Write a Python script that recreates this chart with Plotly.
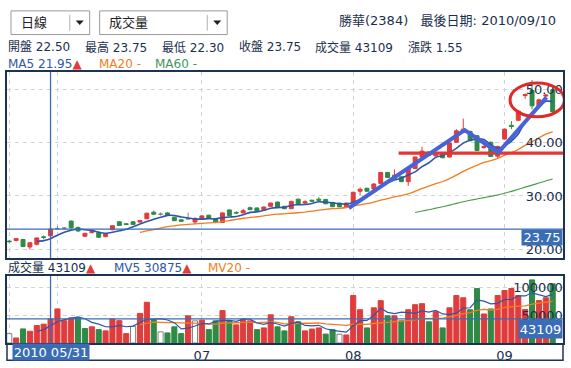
import plotly.graph_objects as go
import pandas as pd

# ---------------- data ----------------
tick_idx = [0, 7, 28, 50, 72]
tick_text = ["", "", "07", "08", "09"]   # "06" sits under the date label in the original

opens = [21.50, 21.61, 21.80, 20.40, 20.90, 22.30, 22.50, 23.85, 23.95, 25.27,
         24.05, 22.41, 23.10, 23.10, 22.36, 23.65, 25.14, 24.77, 25.14, 25.08,
         25.70, 26.94, 26.57, 26.81, 26.01, 25.51, 25.70, 25.10, 25.64, 26.38,
         25.75, 25.01, 27.37, 26.90, 26.81, 27.79, 27.74, 27.42, 28.05, 28.85,
         28.05, 27.61, 29.40, 28.66, 29.20, 29.40, 29.35, 28.79, 28.66, 27.92,
         28.79, 30.89, 31.45, 31.32, 32.37, 34.42, 33.30, 33.60, 32.70, 35.16,
         37.33, 38.26, 37.55, 37.94, 37.33, 40.11, 41.97, 42.15, 41.34, 39.10,
         40.11, 37.50, 40.72, 43.30, 44.25, 48.90, 49.85, 46.90, 48.80, 50.00]
highs = [21.74, 22.00, 21.85, 21.25, 22.15, 22.55, 23.75, 24.35, 24.15, 25.35,
         24.25, 23.05, 23.40, 23.35, 22.95, 24.50, 25.20, 24.90, 25.20, 25.50,
         26.85, 27.25, 26.90, 26.95, 26.10, 25.60, 26.85, 26.00, 26.40, 26.45,
         25.85, 26.90, 27.45, 27.10, 27.60, 28.00, 27.85, 28.00, 28.75, 29.00,
         28.15, 29.10, 29.50, 29.20, 29.30, 29.75, 29.45, 28.90, 28.75, 28.75,
         30.80, 31.60, 31.55, 32.40, 34.50, 34.55, 35.00, 33.75, 35.30, 37.45,
         39.24, 38.40, 37.90, 38.05, 40.10, 42.58, 44.56, 42.30, 41.45, 39.55,
         40.25, 39.50, 42.70, 44.10, 46.10, 49.30, 51.80, 48.30, 49.20, 50.20]
lows = [21.19, 21.45, 20.35, 19.90, 20.70, 21.90, 22.30, 23.75, 23.85, 23.85,
        23.25, 22.30, 22.95, 22.10, 22.20, 23.55, 24.40, 24.55, 24.55, 25.00,
        25.60, 26.40, 26.30, 26.35, 25.30, 25.20, 25.60, 24.70, 25.55, 25.70,
        24.85, 24.95, 26.25, 26.60, 26.75, 27.35, 27.05, 27.35, 27.95, 27.85,
        27.50, 27.50, 28.40, 28.40, 28.90, 29.00, 28.45, 27.90, 27.90, 27.85,
        28.70, 30.20, 30.80, 30.95, 32.30, 33.40, 33.20, 32.60, 31.90, 35.05,
        37.20, 37.50, 37.40, 37.10, 37.20, 40.00, 41.85, 40.30, 38.45, 38.90,
        37.35, 37.00, 40.60, 42.60, 44.10, 48.30, 46.30, 46.70, 48.50, 45.70]
closes = [21.40, 21.98, 20.50, 21.20, 22.10, 22.20, 23.75, 23.85, 23.95, 24.00,
          23.41, 22.97, 23.28, 22.23, 22.91, 24.40, 24.45, 24.64, 24.64, 25.38,
          26.75, 26.57, 26.57, 26.44, 25.35, 25.25, 25.70, 25.70, 26.25, 25.75,
          25.08, 26.81, 26.31, 26.80, 27.24, 27.42, 27.12, 27.92, 28.66, 27.92,
          27.61, 28.98, 28.50, 28.90, 29.00, 29.20, 28.53, 27.98, 27.98, 28.66,
          30.70, 31.27, 30.89, 32.25, 34.42, 33.49, 33.92, 32.70, 35.20, 37.33,
          38.44, 37.63, 37.75, 37.20, 39.98, 42.26, 42.58, 40.41, 38.55, 39.30,
          37.44, 39.30, 42.58, 43.10, 45.97, 49.10, 46.98, 48.10, 49.00, 45.86]
volumes = [16800, 9000, 25200, 21000, 31300, 33766, 43109, 61000, 40000, 45000,
           45000, 26000, 29000, 24000, 21700, 43000, 40000, 16800, 30000, 53000,
           73000, 42000, 20000, 18000, 29000, 16800, 48700, 39700, 41000, 24000,
           39700, 58000, 39700, 32500, 43000, 39700, 24000, 27000, 50500, 29000,
           21700, 47000, 38000, 21700, 25000, 27000, 16000, 24000, 15700, 14400,
           85000, 59600, 27000, 63000, 75800, 48700, 48700, 39700, 59600, 68600,
           70400, 38000, 56000, 27000, 63000, 85000, 81000, 59600, 97500, 52000,
           61000, 85000, 94000, 97500, 85000, 60000, 113000, 76000, 81000, 106000]

sel_idx = 6  # 2010 05/31

# trend annotations (index, price)
trend_x = [49.37, 66.2, 71.1, 78.1]
trend_y = [27.74, 42.39, 38.18, 48.57]
support_x = [56.6, 80.6]
support_y = 38.07
ellipse_x = [72.8, 80.7]
ellipse_y = [44.9, 51.25]

# ---------------- styles ----------------
RED = "#e03c3c"
GREEN = "#2e8a45"
GRAY = "#808080"
BLUE = "#2f55a8"
ORANGE = "#f47c20"
MGREEN = "#4a9a4a"
XBLUE = "#3a6db5"
FRAME = "#1c3352"
TXT = "#1a2f4d"
GRID = "#d2d2d2"
FONT = "Verdana, DejaVu Sans, Noto Sans CJK TC, sans-serif"

W, H = 571, 368
L, R, T, B = 5, 8, 72, 21
PW, PH = W - L - R, H - T - B


def px(x):
    return (x - L) / PW


def py(y):
    return (H - B - y) / PH


n = len(closes)
xs = list(range(n))

fig = go.Figure()

# candles split by direction
groups = {"up": ([], RED), "down": ([], GREEN), "flat": ([], GRAY)}
for i in xs:
    if closes[i] > opens[i]:
        groups["up"][0].append(i)
    elif closes[i] < opens[i]:
        groups["down"][0].append(i)
    else:
        groups["flat"][0].append(i)
for key, (ids, col) in groups.items():
    fig.add_trace(go.Candlestick(
        x=ids,
        open=[opens[i] for i in ids], high=[highs[i] for i in ids],
        low=[lows[i] for i in ids], close=[closes[i] for i in ids],
        increasing=dict(line=dict(color=col, width=1), fillcolor=col),
        decreasing=dict(line=dict(color=col, width=1), fillcolor=col),
        whiskerwidth=0, xaxis="x", yaxis="y", hoverinfo="skip"))

cs = pd.Series(closes)
for win, col, wd in [(60, MGREEN, 1.1), (20, ORANGE, 1.3), (5, BLUE, 1.6)]:
    ma = cs.rolling(win).mean()
    fig.add_trace(go.Scatter(x=xs, y=[None if pd.isna(v) else v for v in ma],
                             mode="lines", line=dict(color=col, width=wd, shape="spline", smoothing=0.5),
                             xaxis="x", yaxis="y", hoverinfo="skip"))

# volume
vcol, vline = [], []
for i in xs:
    if i == 0 or closes[i] == closes[i - 1]:
        vcol.append("white"); vline.append(GRAY)
    elif closes[i] > closes[i - 1]:
        vcol.append(RED); vline.append(RED)
    else:
        vcol.append(GREEN); vline.append(GREEN)
fig.add_trace(go.Bar(x=xs, y=volumes, marker=dict(color=vcol, line=dict(color=vline, width=1)),
                     xaxis="x2", yaxis="y2", hoverinfo="skip"))
vs = pd.Series(volumes)
for win, col, wd in [(20, ORANGE, 1.3), (5, BLUE, 1.2)]:
    mv = vs.rolling(win).mean()
    fig.add_trace(go.Scatter(x=xs, y=[None if pd.isna(v) else v for v in mv],
                             mode="lines", line=dict(color=col, width=wd),
                             xaxis="x2", yaxis="y2", hoverinfo="skip"))

axis_common = dict(showline=True, mirror=True, linecolor=FRAME, linewidth=1.5,
                   zeroline=False, showgrid=True, gridcolor=GRID, griddash="4px,4px",
                   gridwidth=1, ticks="", fixedrange=True)
xr = [-0.33, 80.5]
main_dom = [py(260.7), 1]
vol_dom = [0, py(279)]

fig.update_layout(
    width=W, height=H, margin=dict(l=L, r=R, t=T, b=B),
    paper_bgcolor="white", plot_bgcolor="white", showlegend=False,
    boxgap=0.18, bargap=0.26,
    font=dict(family=FONT, size=12, color=TXT),
    xaxis=dict(axis_common, domain=[0, 1], anchor="y", range=xr, tickvals=tick_idx,
               showticklabels=False, rangeslider=dict(visible=False)),
    yaxis=dict(axis_common, domain=main_dom, anchor="x", range=[18.33, 53.34], side="right",
               tickvals=[20, 30, 40, 50], ticktext=["20.00", "30.00", "40.00", "50.00"],
               ticklabelposition="inside", tickfont=dict(size=13, color=TXT)),
    xaxis2=dict(axis_common, domain=[0, 1], anchor="y2", range=xr, tickvals=tick_idx,
                ticktext=tick_text, tickfont=dict(size=13, color=TXT)),
    yaxis2=dict(axis_common, domain=vol_dom, anchor="x2", range=[0, 120000], side="right",
                tickvals=[50000, 100000], ticktext=["50000", "100000"],
                ticklabelposition="inside", tickfont=dict(size=13, color=TXT)),
)

shapes = []
# crosshair
shapes += [
    dict(type="line", xref="x", yref="y domain", x0=sel_idx, x1=sel_idx, y0=0, y1=1,
         line=dict(color=XBLUE, width=1.3)),
    dict(type="line", xref="x domain", yref="y", x0=0, x1=1, y0=closes[sel_idx], y1=closes[sel_idx],
         line=dict(color=XBLUE, width=1.3)),
    dict(type="line", xref="x2", yref="y2 domain", x0=sel_idx, x1=sel_idx, y0=0, y1=1,
         line=dict(color=XBLUE, width=1.3)),
    dict(type="line", xref="x2 domain", yref="y2", x0=0, x1=1, y0=volumes[sel_idx], y1=volumes[sel_idx],
         line=dict(color=XBLUE, width=1.3)),
]
# frame for date row
shapes += [
    dict(type="path", xref="paper", yref="paper",
         path=f"M 0,0 L 0,{py(364.5)} L 1,{py(364.5)} L 1,0",
         line=dict(color=FRAME, width=1.5)),
]
# trend annotations
path = "M " + " L ".join(f"{a},{b}" for a, b in zip(trend_x, trend_y))
shapes += [
    dict(type="line", xref="x", yref="y", x0=support_x[0], x1=support_x[1], y0=support_y, y1=support_y,
         line=dict(color="#e53535", width=3.2)),
    dict(type="path", xref="x", yref="y", path=path, line=dict(color="#4763d6", width=4)),
    dict(type="circle", xref="x", yref="y", x0=ellipse_x[0], x1=ellipse_x[1], y0=ellipse_y[0], y1=ellipse_y[1],
         line=dict(color="#e02a2a", width=3)),
]
# dropdown boxes
for (x0, x1, xs_) in [(9, 88, 68), (98, 226, 206)]:
    shapes.append(dict(type="rect", xref="paper", yref="paper", x0=px(x0), x1=px(x1), y0=py(34), y1=py(10),
                       line=dict(color="#9a9a9a", width=1), fillcolor="white", layer="below"))
    shapes.append(dict(type="line", xref="paper", yref="paper", x0=px(xs_), x1=px(xs_), y0=py(30), y1=py(14),
                       line=dict(color="#b0b0b0", width=1)))
    ax = xs_ + 10
    shapes.append(dict(type="path", xref="paper", yref="paper",
                       path=f"M {px(ax-3.5)},{py(20)} L {px(ax+3.5)},{py(20)} L {px(ax)},{py(24)} Z",
                       fillcolor="#222", line=dict(color="#222", width=0.5)))
fig.update_layout(shapes=shapes)

ann = []


def txt(x, y, s, color=TXT, size=12, xanchor="left"):
    ann.append(dict(xref="paper", yref="paper", x=px(x), y=py(y), text=s, showarrow=False,
                    xanchor=xanchor, yanchor="middle", font=dict(size=size, color=color, family=FONT)))


tri = f"<span style='color:{RED}'>▲</span>"
txt(17, 22, "日線", "#222", 13)
txt(105, 22, "成交量", "#222", 13)
txt(558, 20, "勝華(2384)   最後日期: 2010/09/10", TXT, 13, "right")
o, h, l, c, v = opens[sel_idx], highs[sel_idx], lows[sel_idx], closes[sel_idx], volumes[sel_idx]
chg = c - closes[sel_idx - 1]
txt(4, 47, f"開盤 {o:.2f}")
txt(81.5, 47, f"最高 {h:.2f}")
txt(159, 47, f"最低 {l:.2f}")
txt(236, 47, f"收盤 {c:.2f}")
txt(312, 47, f"成交量 {v}")
txt(405.5, 47, f"漲跌 {chg:.2f}")
ma5_now = sum(closes[sel_idx - 4:sel_idx + 1]) / 5
mv5_now = sum(volumes[sel_idx - 4:sel_idx + 1]) / 5
txt(4, 63.5, f"MA5 {ma5_now:.2f}{tri}", BLUE)
txt(95.5, 63.5, "MA20 -", ORANGE)
txt(152, 63.5, f"MA60 -", "#3f9560")
txt(4, 270.5, f"成交量 {v}{tri}", TXT)
txt(110, 270.5, f"MV5 {mv5_now:.0f}{tri}", BLUE)
txt(205, 270.5, "MV20 -", ORANGE)

# value boxes
ann.append(dict(xref="x domain", yref="y", x=1, y=c, text=f"{c:.2f}", showarrow=False,
                xanchor="right", yanchor="top", bgcolor=XBLUE, width=38, height=13, borderpad=1,
                font=dict(size=13, color="white", family=FONT)))
ann.append(dict(xref="x2 domain", yref="y2", x=1, y=v, text=f"{v}", showarrow=False,
                xanchor="right", yanchor="top", bgcolor=XBLUE, width=41, height=16, borderpad=1,
                font=dict(size=13, color="white", family=FONT)))
ann.append(dict(xref="x2", yref="paper", x=sel_idx, y=0, text="2010 05/31", showarrow=False,
                xanchor="center", yanchor="top", bgcolor=XBLUE, width=74, height=14, borderpad=1,
                font=dict(size=13, color="white", family=FONT)))
fig.update_layout(annotations=ann)

fig.write_html("out.html", config={"displayModeBar": False},
               post_script="document.body.style.margin='0';document.body.style.overflow='hidden';")
